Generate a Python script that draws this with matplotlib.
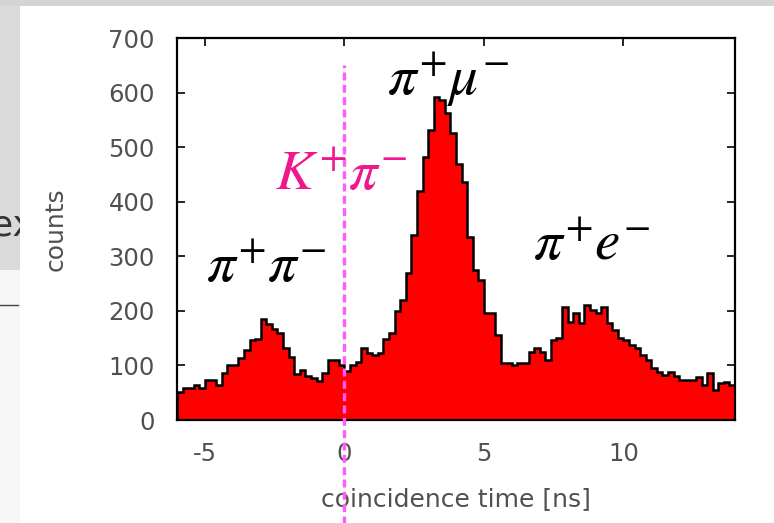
import numpy as np
import matplotlib
matplotlib.use("Agg")
import matplotlib.pyplot as plt
from matplotlib.patches import Rectangle
from matplotlib.lines import Line2D

# Histogram of coincidence time, 0.2 ns bins from -6 to 14 ns
bin_edges = np.round(np.arange(-6.0, 14.0001, 0.2), 2)
counts = [
    51, 59, 59, 64, 59, 73, 73, 64, 86, 100,
    100, 113, 128, 146, 148, 185, 176, 167, 160, 132,
    116, 85, 92, 80, 77, 72, 86, 110, 110, 100,
    90, 100, 106, 132, 123, 120, 123, 148, 160, 200,
    220, 269, 339, 420, 482, 531, 592, 586, 562, 526,
    470, 436, 335, 275, 256, 196, 196, 155, 104, 104,
    100, 104, 104, 125, 132, 125, 110, 146, 150, 207,
    180, 196, 178, 211, 201, 196, 207, 178, 165, 150,
    146, 137, 132, 119, 110, 95, 88, 82, 88, 80,
    73, 73, 73, 79, 64, 86, 55, 68, 70, 64,
]
assert len(counts) == len(bin_edges) - 1

x_ticks = [-5, 0, 5, 10]
y_ticks = [0, 100, 200, 300, 400, 500, 600, 700]

# peak labels: (text, x, y, colour)
labels = [
    (r"$\pi^{+}\pi^{-}$", -2.8, 253, "black"),
    (r"$\pi^{+}\mu^{-}$", 3.7, 596, "black"),
    (r"$K^{+}\pi^{-}$", -0.1, 421, "#f0168c"),
    (r"$\pi^{+}e^{-}$", 8.85, 293, "black"),
]

plt.rcParams["axes.unicode_minus"] = False
plt.rcParams["mathtext.fontset"] = "stix"

fig = plt.figure(figsize=(7.74, 5.23), dpi=100)
fig.patch.set_facecolor("white")

# slide background bits around the chart
fig.add_artist(Rectangle((0, 0), 1, 1, transform=fig.transFigure,
                         facecolor="#f7f7f7", edgecolor="none", zorder=-10))
fig.add_artist(Rectangle((0, 1 - 270 / 523), 20 / 774, 270 / 523, transform=fig.transFigure,
                         facecolor="#dadada", edgecolor="none", zorder=-9))
fig.add_artist(Rectangle((0, 1 - 6 / 523), 1, 6 / 523, transform=fig.transFigure,
                         facecolor="#d4d4d4", edgecolor="none", zorder=-9))
fig.text(-0.012, 1 - 226 / 523, "ex", fontsize=26, color="#333333",
         va="center", ha="left", zorder=-8)
fig.add_artist(Line2D([0, 18 / 774], [1 - 305 / 523] * 2, transform=fig.transFigure,
                      color="#444444", lw=1, zorder=-8))
fig.add_artist(Rectangle((20 / 774, 0), 1, 1 - 6 / 523, transform=fig.transFigure,
                         facecolor="white", edgecolor="none", zorder=-7))

ax = fig.add_axes([177 / 774, 103 / 523, 558 / 774, 382 / 523])
ax.set_facecolor("white")

ax.stairs(counts, bin_edges, fill=True, color="#ff0000", zorder=2)
ax.stairs(counts, bin_edges, color="black", lw=1.8, zorder=3)

ax.axvline(0, ymin=-0.3, ymax=650 / 700, color="#ff5cff", lw=2.4,
           linestyle=(0, (2.4, 1.3)), clip_on=False, zorder=5)

for text, lx, ly, col in labels:
    ax.text(lx, ly, text, fontsize=41, color=col, ha="center", va="baseline", zorder=6)

ax.set_xlim(-6, 14)
ax.set_ylim(0, 700)
ax.set_xticks(x_ticks)
ax.set_yticks(y_ticks)
ax.tick_params(direction="in", length=6, width=1.2, top=True, right=True,
               labelsize=17.5, labelcolor="#505050", pad=16)
ax.tick_params(axis="x", pad=16)
for s in ax.spines.values():
    s.set_linewidth(1.6)

ax.set_xlabel("coincidence time [ns]", fontsize=18, color="#505050", labelpad=15)
ax.set_ylabel("counts", fontsize=18, color="#505050", labelpad=29)

fig.savefig("out.png", dpi=100)
